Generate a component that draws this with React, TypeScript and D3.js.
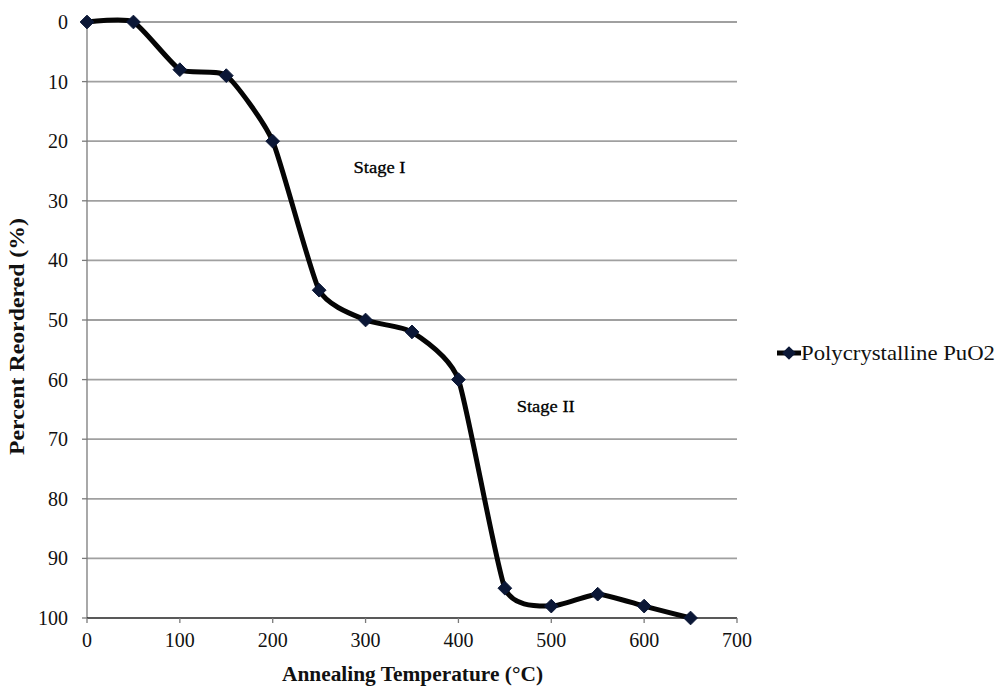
import React, { useEffect, useRef } from 'react';
import * as d3 from 'd3';

const temps = [0, 50, 100, 150, 200, 250, 300, 350, 400, 450, 500, 550, 600, 650];
const reordered = [0, 0, 8, 9, 20, 45, 50, 52, 60, 95, 98, 96, 98, 100];
const xTicks = [0, 100, 200, 300, 400, 500, 600, 700];
const yTicks = [0, 10, 20, 30, 40, 50, 60, 70, 80, 90, 100];
const seriesName = 'Polycrystalline PuO2';
const stageLabels = [
  { text: 'Stage I', t: 315, p: 25.4, w: 52 },
  { text: 'Stage II', t: 494, p: 65.4, w: 58 },
];

const App: React.FC = () => {
  const svgRef = useRef<SVGSVGElement | null>(null);

  useEffect(() => {
    if (!svgRef.current) return;
    const svg = d3.select(svgRef.current);
    svg.selectAll('*').remove();

    const font = "'Liberation Serif', 'Times New Roman', serif";
    const x = d3.scaleLinear().domain([0, 700]).range([87, 737]);
    const y = d3.scaleLinear().domain([0, 100]).range([22, 618]);

    const g = svg.append('g').style('font-family', font);

    // grid
    g.selectAll('.grid').data(yTicks.filter(d => d !== 100)).enter().append('line')
      .attr('x1', x(0)).attr('x2', x(700))
      .attr('y1', d => y(d)).attr('y2', d => y(d))
      .attr('stroke', '#a0a0a0').attr('stroke-width', 1.8);

    // axes
    g.append('line').attr('x1', x(0)).attr('x2', x(0)).attr('y1', y(0)).attr('y2', y(100))
      .attr('stroke', '#7a7a7a').attr('stroke-width', 1.3);
    g.append('line').attr('x1', x(0)).attr('x2', x(700)).attr('y1', y(100)).attr('y2', y(100))
      .attr('stroke', '#222').attr('stroke-width', 1.6);

    g.selectAll('.ytick').data(yTicks).enter().append('line')
      .attr('x1', x(0) - 5).attr('x2', x(0)).attr('y1', d => y(d)).attr('y2', d => y(d))
      .attr('stroke', '#7a7a7a').attr('stroke-width', 1.3);
    g.selectAll('.xtick').data(xTicks).enter().append('line')
      .attr('x1', d => x(d)).attr('x2', d => x(d)).attr('y1', y(100)).attr('y2', y(100) + 5)
      .attr('stroke', '#7a7a7a').attr('stroke-width', 1.3);

    g.selectAll('.ylab').data(yTicks).enter().append('text')
      .attr('x', 68).attr('y', d => y(d) + 7)
      .attr('text-anchor', 'end').style('font-size', '20px')
      .attr('fill', '#111').text(d => d);
    g.selectAll('.xlab').data(xTicks).enter().append('text')
      .attr('x', d => x(d)).attr('y', y(100) + 29)
      .attr('text-anchor', 'middle').style('font-size', '20px')
      .attr('fill', '#111').text(d => d);

    // titles
    g.append('text').attr('x', 282).attr('y', 681)
      .attr('textLength', 261).attr('lengthAdjust', 'spacingAndGlyphs')
      .style('font-size', '20px').attr('font-weight', 'bold')
      .attr('fill', '#111').text('Annealing Temperature (°C)');
    g.append('text').attr('transform', 'translate(24, 455) rotate(-90)')
      .attr('textLength', 237).attr('lengthAdjust', 'spacingAndGlyphs')
      .style('font-size', '20px')
      .attr('font-weight', 'bold').attr('fill', '#111').text('Percent Reordered (%)');

    // stage labels
    g.selectAll('.stage').data(stageLabels).enter().append('text')
      .attr('x', d => x(d.t) - d.w / 2).attr('y', d => y(d.p))
      .attr('textLength', d => d.w).attr('lengthAdjust', 'spacingAndGlyphs')
      .style('font-size', '17px')
      .attr('fill', '#000').attr('stroke', '#000').attr('stroke-width', 0.3)
      .text(d => d.text);

    // series
    const data: [number, number][] = temps.map((t, i) => [t, reordered[i]]);
    const line = d3.line<[number, number]>().x(d => x(d[0])).y(d => y(d[1]))
      .curve(d3.curveCardinal.tension(0.45));
    g.append('path').datum(data).attr('d', line).attr('fill', 'none')
      .attr('stroke', '#050505').attr('stroke-width', 5).attr('stroke-linejoin', 'round');

    const diamond = d3.symbol().type(d3.symbolDiamond2).size(120);
    g.selectAll('.pt').data(data).enter().append('path')
      .attr('d', diamond)
      .attr('transform', d => `translate(${x(d[0])},${y(d[1])})`)
      .attr('fill', '#0b1736').attr('stroke', '#0b1736').attr('stroke-width', 1);

    // legend
    const lg = g.append('g').attr('transform', 'translate(777, 353)');
    lg.append('line').attr('x1', 0).attr('x2', 24).attr('y1', 0).attr('y2', 0)
      .attr('stroke', '#050505').attr('stroke-width', 5);
    lg.append('path').attr('d', diamond).attr('transform', 'translate(12,0)')
      .attr('fill', '#0b1736');
    lg.append('text').attr('x', 24).attr('y', 7)
      .attr('textLength', 194).attr('lengthAdjust', 'spacingAndGlyphs')
      .style('font-size', '21px')
      .attr('fill', '#111').text(seriesName);
  }, []);

  return (
    <svg ref={svgRef} width={998} height={686}
      style={{ position: 'absolute', left: 0, top: 0, background: '#fff' }} />
  );
};

export default App;
